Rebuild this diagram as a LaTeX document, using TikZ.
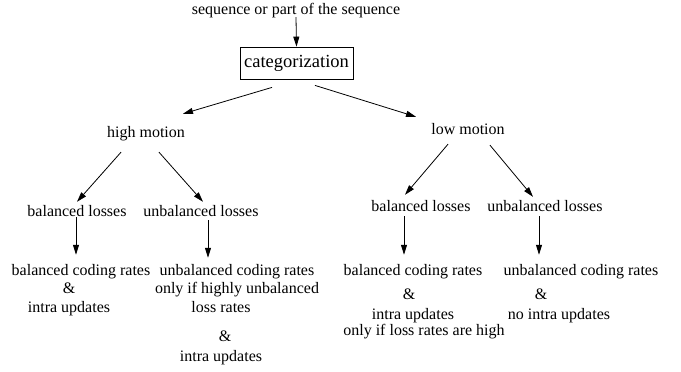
\documentclass[tikz,border=0pt]{standalone}
\usepackage{fontspec}
\setmainfont{Liberation Serif}
\usetikzlibrary{arrows.meta}

\begin{document}
\begin{tikzpicture}[x=1pt,y=-1pt]
    \tikzstyle{every node}=[inner sep=0pt, text height=11pt, text depth=3pt, font=\fontsize{16}{19}\selectfont]
    \tikzstyle{arr}=[-{Triangle[length=10pt,width=6pt]}, line width=0.8pt]
    \useasboundingbox (0,0) rectangle (681,372);
    \node (seq) at (296,10) {sequence or part of the sequence};
    \node[draw, line width=0.8pt, minimum width=113pt, minimum height=32pt, text height=13pt, text depth=4pt,
          font=\fontsize{18.5}{22}\selectfont] (cat) at (296.5,63) {categorization};
    \node (high) at (146,133) {high motion};
    \node (low) at (468,130) {low motion};
    \node (hbal) at (77,212) {balanced losses};
    \node (hunbal) at (201,212) {unbalanced losses};
    \node (lbal) at (421,207) {balanced losses};
    \node (lunbal) at (545,207) {unbalanced losses};
    % high motion, balanced
    \node (hbrate) at (81,271) {balanced coding rates};
    \node (hbamp) at (69,289) {\&};
    \node (hbintra) at (69,308) {intra updates};
    % high motion, unbalanced
    \node (hurate) at (237,271) {unbalanced coding rates};
    \node (huonly) at (237,289) {only if highly unbalanced};
    \node (huloss) at (221,308) {loss rates};
    \node (huamp) at (225,337) {\&};
    \node (huintra) at (221,357) {intra updates};
    % low motion, balanced
    \node (lbrate) at (413,271) {balanced coding rates};
    \node (lbamp) at (409,295) {\&};
    \node (lbintra) at (413,315) {intra updates};
    \node (lbonly) at (424,331) {only if loss rates are high};
    % low motion, unbalanced
    \node (lurate) at (581,271) {unbalanced coding rates};
    \node (luamp) at (541,295) {\&};
    \node (lunointra) at (559,315) {no intra updates};

    \draw[arr] (seq.south) -- (cat.north);
    \draw[arr] ([shift={(-24.5,8)}]cat.south) -- ([shift={(37,-12)}]high.north);
    \draw[arr] ([shift={(18.5,6)}]cat.south) -- ([shift={(-52,-6)}]low.north);
    \draw[arr] ([shift={(-25,12)}]high.south) -- ([shift={(0,-3)}]hbal.north);
    \draw[arr] ([shift={(13,12)}]high.south) -- ([shift={(2,-3)}]hunbal.north);
    \draw[arr] ([shift={(-20,7)}]low.south) -- ([shift={(-16,-5)}]lbal.north);
    \draw[arr] ([shift={(22,8)}]low.south) -- ([shift={(-12,-3)}]lunbal.north);
    \draw[arr] ([shift={(-1,-2)}]hbal.south) -- ([shift={(-5,-9)}]hbrate.north);
    \draw[arr] ([shift={(7,1)}]hunbal.south) -- ([shift={(-29,-6)}]hurate.north);
    \draw[arr] ([shift={(-17,2)}]lbal.south) -- ([shift={(-9,-9)}]lbrate.north);
    \draw[arr] ([shift={(-6,2)}]lunbal.south) -- ([shift={(-42,-9)}]lurate.north);
\end{tikzpicture}
\end{document}
